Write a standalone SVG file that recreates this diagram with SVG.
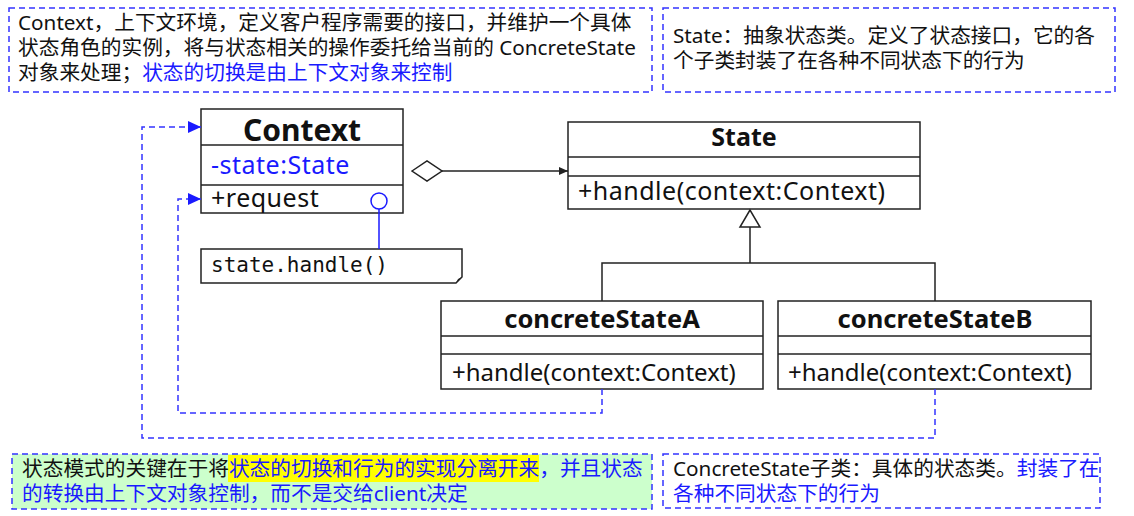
<svg xmlns="http://www.w3.org/2000/svg" width="1134" height="516" viewBox="0 0 1134 516">
<style>
text{font-family:"Noto Sans","Noto Sans CJK SC",sans-serif;fill:#111}
.note{font-size:20.7px}
.blue{fill:#1a1aff}
.dbox{fill:#fff;stroke:#3333ff;stroke-width:1.5;stroke-dasharray:6 4}
.cls{fill:#fff;stroke:#222;stroke-width:1.5}
.sep{stroke:#222;stroke-width:1.5}
.title{font-weight:bold;text-anchor:middle}
.op{font-size:25px;letter-spacing:0.5px}
.op2{font-size:24px}
.dline{fill:none;stroke:#3333ff;stroke-width:1.5;stroke-dasharray:6 4}
.line{fill:none;stroke:#222;stroke-width:1.5}
</style>
<defs>
<marker id="diamond" markerUnits="userSpaceOnUse" viewBox="0 0 32 22" markerWidth="32" markerHeight="22" refX="1" refY="11" orient="auto">
<polygon points="1,11 16,1 31,11 16,21" fill="#fff" stroke="#222" stroke-width="1.5"/>
</marker>
<marker id="arr" markerUnits="userSpaceOnUse" viewBox="0 0 9 8" markerWidth="9" markerHeight="8" refX="9" refY="4" orient="auto">
<polygon points="0,0 9,4 0,8" fill="#222"/>
</marker>
<marker id="barr" markerUnits="userSpaceOnUse" viewBox="0 0 13 12" markerWidth="13" markerHeight="12" refX="13" refY="6" orient="auto">
<polygon points="0,0 13,6 0,12" fill="#1a1aff"/>
</marker>
</defs>

<g id="note-context">
<rect class="dbox" x="9" y="8" width="643" height="84"/>
<text class="note" x="18" y="30">Context，上下文环境，定义客户程序需要的接口，并维护一个具体</text>
<text class="note" x="18" y="55">状态角色的实例，将与状态相关的操作委托给当前的 ConcreteState</text>
<text class="note" x="18" y="80">对象来处理；<tspan class="blue">状态的切换是由上下文对象来控制</tspan></text>
</g>

<g id="note-state">
<rect class="dbox" x="663" y="8" width="452" height="84"/>
<text class="note" x="673" y="43">State：抽象状态类。定义了状态接口，它的各</text>
<text class="note" x="673" y="68">个子类封装了在各种不同状态下的行为</text>
</g>

<g id="context">
<rect class="cls" x="201" y="109" width="202" height="104"/>
<line class="sep" x1="201" y1="145" x2="403" y2="145"/>
<line class="sep" x1="201" y1="185" x2="403" y2="185"/>
<text class="title" x="302" y="141" font-size="30">Context</text>
<text class="blue op" x="211" y="174">-state:State</text>
<text class="op" x="211" y="207">+request</text>
<circle cx="379" cy="201" r="8" fill="#fff" stroke="#1a1aff" stroke-width="1.5"/>
</g>

<g id="note-handle">
<path d="M201,249 H462 V277 L456,283 H201 Z" fill="#fff" stroke="#222" stroke-width="1.5"/>
<path d="M456,283 L458,279 L462,277 Z" fill="#222"/>
<text x="211" y="272" font-size="21" style="font-family:'DejaVu Sans Mono','Liberation Mono',monospace">state.handle()</text>
</g>

<g id="state">
<rect class="cls" x="568" y="122" width="352" height="87"/>
<line class="sep" x1="568" y1="157" x2="920" y2="157"/>
<line class="sep" x1="568" y1="176" x2="920" y2="176"/>
<text class="title" x="744" y="146" font-size="25">State</text>
<text class="op" x="578" y="200">+handle(context:Context)</text>
</g>

<g id="concreteStateA">
<rect class="cls" x="441" y="301" width="322" height="88"/>
<line class="sep" x1="441" y1="336" x2="763" y2="336"/>
<line class="sep" x1="441" y1="354" x2="763" y2="354"/>
<text class="title" x="602" y="328" font-size="25.5">concreteStateA</text>
<text class="op2" x="452" y="381">+handle(context:Context)</text>
</g>

<g id="concreteStateB">
<rect class="cls" x="778" y="301" width="313" height="88"/>
<line class="sep" x1="778" y1="336" x2="1091" y2="336"/>
<line class="sep" x1="778" y1="354" x2="1091" y2="354"/>
<text class="title" x="935" y="328" font-size="25.5">concreteStateB</text>
<text class="op2" x="788" y="381">+handle(context:Context)</text>
</g>

<g id="note-key">
<rect x="12" y="454" width="640" height="55" fill="#ccffcc" stroke="#3333ff" stroke-width="1.5" stroke-dasharray="6 4"/>
<rect x="228" y="455" width="311" height="27" fill="#ffff00"/>
<text class="note" x="22" y="476">状态模式的关键在于将<tspan class="blue">状态的切换和行为的实现分离开来，并且状态</tspan></text>
<text class="note blue" x="22" y="501">的转换由上下文对象控制，而不是交给client决定</text>
</g>

<g id="note-concrete">
<rect class="dbox" x="663" y="454" width="437" height="54"/>
<text class="note" x="673" y="476">ConcreteState子类：具体的状态类。<tspan class="blue">封装了在</tspan></text>
<text class="note blue" x="673" y="501">各种不同状态下的行为</text>
</g>

<g id="connectors">
<path class="line" d="M412,171 H568" marker-start="url(#diamond)" marker-end="url(#arr)"/>
<line x1="379" y1="209" x2="379" y2="249" stroke="#1a1aff" stroke-width="1.5"/>
<path class="line" d="M750,227 V263 M602,301 V263 H935 V301"/>
<polygon points="750,210 740,227 760,227" fill="#fff" stroke="#222" stroke-width="1.5"/>
<path class="dline" d="M602,389 V413 H178 V199 H201" marker-end="url(#barr)"/>
<path class="dline" d="M935,389 V438 H142 V127 H201" marker-end="url(#barr)"/>
</g>
</svg>
